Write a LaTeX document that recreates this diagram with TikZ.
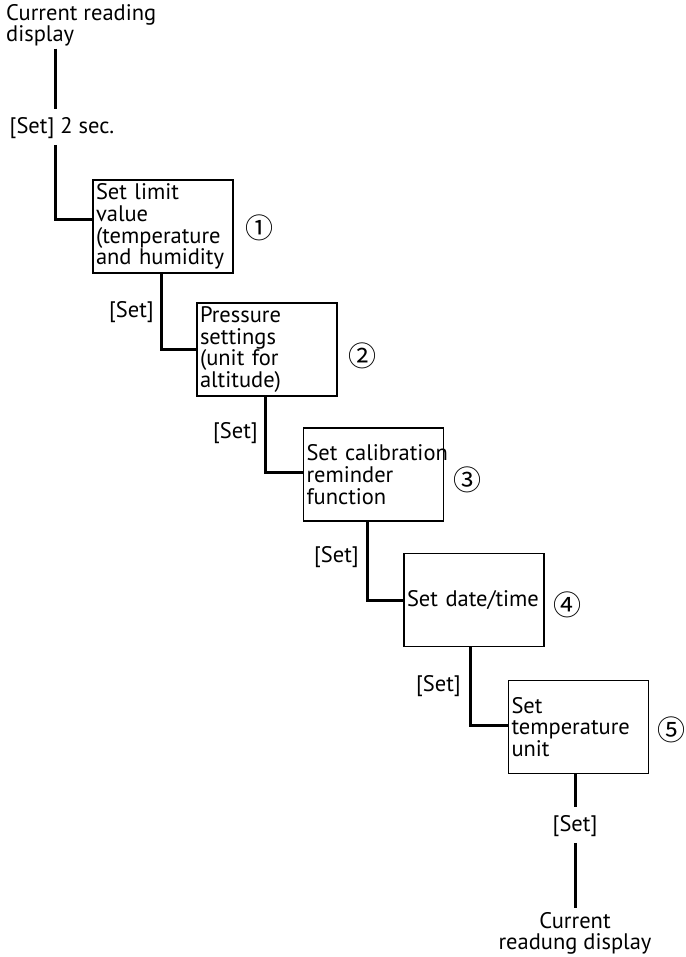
\documentclass[tikz,border=0pt]{standalone}
\usepackage{fontspec}
\setmainfont{PT Sans}
\newfontfamily\circfont{Noto Sans CJK SC}
\begin{document}
\begin{tikzpicture}[x=1pt,y=-1pt,
  every node/.style={font=\fontsize{22.5}{21.7}\selectfont},
  stepbox/.style={draw, line width=1.5pt, rectangle, minimum width=140, minimum height=93,
     text width=134, inner sep=3, align=left},
  conn/.style={line width=3pt},
  setlbl/.style={anchor=east, inner sep=0},
  circnum/.style={font=\circfont\fontsize{28}{28}\selectfont, inner sep=0}]
\useasboundingbox (0,0) rectangle (685,957);
% start
\node[anchor=north west, align=left, inner sep=0] (start) at (6,4) {Current reading\\display};
\coordinate (lx) at (55,0);
\node[inner sep=0] (s0) at (62,128) {[Set] 2 sec.};
% boxes
\node[stepbox] (b1) at (163,226.5) {Set limit\\value\\\mbox{(temperature}\\\mbox{and humidity}};
\node[stepbox] (b2) at (267,349.5) {Pressure\\settings\\(unit for\\altitude)};
\node[stepbox] (b3) at (373.5,474.5) {\mbox{Set calibration}\\reminder\\function};
\node[stepbox] (b4) at (474,600) {Set date/time};
\node[stepbox] (b5) at (578.5,727) {Set\\temperature\\unit};
% numbers
\node[circnum] (n1) at (259,228) {①};
\node[circnum] (n2) at (362,356) {②};
\node[circnum] (n3) at (467,480) {③};
\node[circnum] (n4) at (567,605) {④};
\node[circnum] (n5) at (671,730) {⑤};
% set labels
\node[setlbl] (l1) at (154,312) {[Set]};
\node[setlbl] (l2) at (258,433) {[Set]};
\node[setlbl] (l3) at (359,557) {[Set]};
\node[setlbl] (l4) at (461,686) {[Set]};
\node[inner sep=0] (l5) at (575,826) {[Set]};
\node[anchor=north, align=center, inner sep=0] (end) at (575,912) {Current\\readung display};
% connectors
\draw[conn] ([yshift=-2]start.south -| lx) -- ([yshift=8]s0.north -| lx);
\draw[conn] ([yshift=-6]s0.south -| lx) |- ([yshift=6.5]b1.west);
\draw[conn] ([xshift=-2]b1.south) |- (b2.west);
\draw[conn] ([xshift=-2]b2.south) |- ([yshift=2]b3.west);
\draw[conn] ([xshift=-6]b3.south) |- (b4.west);
\draw[conn] ([xshift=-4]b4.south) |- ([yshift=2]b5.west);
\draw[conn] ([xshift=-3.5]b5.south) -- ([yshift=8]l5.north -| end);
\draw[conn] ([yshift=-6]l5.south -| end) -- ([yshift=4]end.north);
\end{tikzpicture}
\end{document}
